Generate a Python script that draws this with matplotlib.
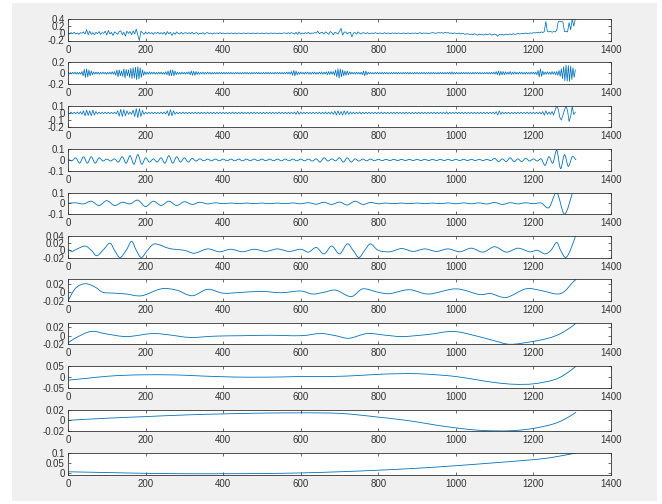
import numpy as np
import matplotlib
matplotlib.use("Agg")
import matplotlib.pyplot as plt
from matplotlib.patches import Rectangle, PathPatch
from matplotlib.path import Path

plt.rcParams['font.family'] = ['Liberation Sans', 'DejaVu Sans']
plt.rcParams['axes.unicode_minus'] = False

# ---------------- data ----------------
x_ticks = [0, 200, 400, 600, 800, 1000, 1200, 1400]
x_ticklabels = ['0', '200', '400', '600', '800', '1000', '1200', '1400']

step1 = 4
imf1 = [.01,-.02,.02,-.01,.03,-.02,.01,-.03,.02,.0,.04,-.02,.1,-.04,.06,-.03,.02,-.04,.03,-.01,
        .05,-.03,.02,.0,.06,-.05,.08,-.02,.03,-.06,.04,.01,-.03,.05,.07,-.04,.03,-.08,.06,.0,
        .05,-.04,.07,-.02,.12,-.05,-.20,.06,.02,-.03,.04,-.02,.03,-.01,.02,-.03,.02,.0,.03,-.02,
        .02,-.02,.03,-.04,.05,-.01,.03,-.06,.02,-.03,.04,.0,-.02,.03,-.02,.01,.02,-.01,.02,-.01,
        .03,-.02,.01,.02,-.03,.01,-.01,.02,-.02,.01,.02,-.01,.01,-.02,.01,.0,.01,-.01,.02,-.01,
        .01,-.01,.0,.01,-.01,.01,.0,-.01,.01,-.01,.01,.0,-.01,.01,.0,-.01,.01,.0,-.01,.01,
        .0,-.01,.01,.0,-.01,.01,-.01,.0,.01,-.01,.0,.01,-.01,.01,.0,-.01,.01,-.01,.0,.01,
        .01,-.01,.02,-.01,.02,.0,-.02,.03,-.03,.04,-.02,.01,-.01,.02,-.01,.03,-.02,.01,.0,.02,
        .01,.06,-.01,.02,.03,-.02,.04,.01,-.03,.05,.02,-.04,.03,.01,-.02,.06,.14,-.05,.03,.04,
        -.02,.02,.03,-.10,.01,.02,-.02,.04,.0,-.02,.02,.01,-.01,.02,-.01,.0,.01,-.01,.02,.0,
        -.01,.01,.0,-.01,.02,-.01,.01,.0,-.01,.01,.0,.01,-.01,.01,.0,-.01,.01,.0,-.01,.01,
        .0,-.01,.01,.0,.01,-.01,.0,.02,-.01,.01,.0,.01,-.01,.0,.01,.02,.01,.0,.01,.02,
        .01,.02,.0,.03,.01,.02,.0,.01,-.01,.01,.0,-.01,.01,-.02,.0,-.01,-.03,-.01,-.02,-.03,
        -.02,-.04,-.01,-.03,-.05,-.02,-.04,-.03,-.05,-.02,-.04,-.03,-.01,-.05,-.03,-.02,-.04,-.08,-.03,-.04,
        -.03,-.05,-.02,-.04,-.03,-.02,-.04,-.01,-.03,-.02,.0,-.02,-.01,.0,-.01,.01,-.01,.0,.01,.0,
        .02,.01,.02,.03,.01,.04,.02,.05,.33,.05,.04,.06,.03,.05,.04,.08,.33,.34,.33,.32,
        .05,.06,.04,.30,.10,.40,.20,.40]

step2 = 3
imf2 = [.015,-.015,.012,-.015,.015,-.012,.02,-.02,.015,-.02,.015,-.02,.03,-.05,.07,-.08,.08,-.07,.06,-.05,
        .04,-.03,.025,-.02,.02,-.015,.02,-.02,.015,-.015,.02,-.015,.015,-.02,.015,-.015,.02,-.02,.025,-.02,
        .03,-.04,.06,-.07,.06,-.05,.04,-.06,.08,-.09,.07,-.05,.06,-.08,.09,-.1,.1,-.09,.11,-.12,
        .12,-.11,.1,-.08,.06,-.04,.03,-.025,.02,-.02,.025,-.02,.02,-.015,.02,-.02,.015,-.02,.02,-.015,
        .02,-.02,.015,-.02,.025,-.03,.04,-.05,.06,-.05,.06,-.05,.04,-.03,.02,-.02,.015,-.02,.02,-.015,
        .015,-.02,.02,-.015,.025,-.03,.04,-.04,.035,-.04,.03,-.025,.02,-.02,.015,-.015,.02,-.02,.015,-.015,
        .02,-.015,.015,-.02,.015,-.015,.015,-.015,.015,-.015,.015,-.015,.015,-.015,.015,-.015,.015,-.015,.015,-.015,
        .015,-.015,.012,-.015,.015,-.012,.015,-.015,.012,-.015,.015,-.015,.015,-.012,.015,-.015,.012,-.015,.015,-.015,
        .015,-.012,.015,-.015,.015,-.015,.012,-.015,.015,-.015,.015,-.012,.015,-.015,.015,-.015,.012,-.015,.015,-.012,
        .015,-.015,.015,-.015,.015,-.015,.015,-.015,.02,-.015,.02,-.02,.03,-.04,.05,-.05,.04,-.03,.02,-.02,
        .02,-.015,.015,-.02,.02,-.015,.02,-.02,.015,-.02,.02,-.015,.02,-.02,.015,-.02,.02,-.015,.02,-.02,
        .02,-.02,.025,-.03,.03,-.025,.03,-.02,.03,-.04,.06,-.07,.08,-.09,.08,-.07,.06,-.05,.04,-.04,
        .04,-.03,.025,-.02,.02,-.015,.015,-.02,.02,-.015,.015,-.02,.02,-.03,.04,-.05,.04,-.03,.02,-.015,
        .015,-.015,.012,-.015,.015,-.012,.015,-.015,.012,-.015,.015,-.015,.015,-.012,.015,-.015,.012,-.015,.015,-.015,
        .015,-.012,.015,-.015,.015,-.015,.012,-.015,.015,-.015,.015,-.012,.015,-.015,.015,-.015,.012,-.015,.015,-.012,
        .015,-.015,.012,-.015,.015,-.012,.015,-.015,.012,-.015,.015,-.015,.015,-.012,.015,-.015,.012,-.015,.015,-.015,
        .015,-.015,.015,-.015,.015,-.015,.015,-.015,.02,-.02,.025,-.02,.015,-.015,.015,-.015,.012,-.015,.015,-.015,
        .015,-.012,.015,-.015,.015,-.015,.012,-.015,.015,-.015,.015,-.012,.015,-.015,.015,-.015,.012,-.015,.015,-.012,
        .015,-.015,.015,-.015,.015,-.015,.02,-.02,.03,-.03,.04,-.04,.035,-.03,.03,-.03,.025,-.02,.02,-.02,
        .03,-.025,.02,-.02,.025,-.02,.015,-.02,.02,-.015,.02,-.02,.015,-.02,.02,-.015,.015,-.02,.02,-.015,
        .02,-.02,.02,-.03,.05,-.07,.08,-.06,.04,-.03,.02,-.02,.025,-.02,.02,-.025,.03,-.02,.025,-.03,
        .03,-.04,.05,-.06,.08,-.1,.12,-.14,.15,-.15,.14,-.15,.13,-.12,.1,-.08,.06]

step3 = 4
imf3 = [.01,-.01,.012,-.012,.01,-.012,.014,-.014,.018,-.02,.03,-.04,.04,-.035,.03,-.04,.04,-.03,.02,-.015,
        .012,-.012,.01,-.01,.012,-.01,.01,-.012,.01,-.01,.012,-.015,.03,-.045,.05,-.05,.045,-.04,.03,-.02,
        .015,-.02,.04,-.05,.06,-.065,.06,-.05,.035,-.02,.012,-.012,.01,-.01,.012,-.01,.01,-.012,.01,-.01,
        .012,-.012,.014,-.015,.03,-.04,.045,-.04,.03,-.02,.012,-.012,.01,-.01,.012,-.01,.01,-.012,.01,-.01,
        .01,-.01,.012,-.01,.01,-.012,.01,-.01,.01,-.01,.012,-.01,.01,-.01,.01,-.012,.01,-.01,.01,-.01,
        .01,-.01,.01,-.012,.01,-.01,.012,-.01,.01,-.01,.01,-.01,.012,-.01,.01,-.01,.01,-.012,.01,-.01,
        .012,-.01,.01,-.01,.01,-.012,.01,-.01,.01,-.01,.012,-.01,.01,-.01,.01,-.01,.012,-.01,.01,-.01,
        .01,-.01,.01,-.01,.01,-.012,.014,-.02,.025,-.02,.014,-.012,.01,-.01,.01,-.01,.01,-.01,.01,-.01,
        .01,-.01,.012,-.012,.01,-.012,.014,-.014,.012,-.014,.016,-.02,.025,-.03,.03,-.025,.02,-.03,.03,-.02,
        .025,-.02,.015,-.014,.012,-.012,.01,-.01,.014,-.014,.01,-.01,.01,-.01,.01,-.01,.01,-.01,.01,-.01,
        .01,-.01,.012,-.01,.01,-.01,.01,-.012,.01,-.01,.01,-.01,.012,-.01,.01,-.01,.01,-.01,.012,-.01,
        .01,-.012,.01,-.01,.01,-.01,.012,-.01,.01,-.01,.01,-.012,.01,-.01,.01,-.01,.012,-.01,.01,-.01,
        .01,-.01,.01,-.012,.016,-.016,.01,-.01,.01,-.01,.012,-.01,.01,-.01,.01,-.012,.01,-.01,.01,-.01,
        .01,-.01,.01,-.01,.01,-.01,.01,-.01,.01,-.01,.01,-.01,.01,-.01,.012,-.014,.018,-.03,.03,-.02,
        .014,-.012,.01,-.01,.01,-.012,.01,-.01,.01,-.01,.012,-.01,.01,-.01,.01,-.01,.012,-.01,.01,-.01,
        .01,-.01,.01,-.012,.012,-.015,.02,-.03,.03,-.02,.015,-.02,.02,-.03,.04,.1,.05,-.06,-.1,-.03,
        .04,.1,.03,-.12,-.05,.09,-.02,.01]

step4 = 10
imf4 = [.008,-.008,.02,-.03,.03,-.03,.03,-.03,.02,-.01,
        .008,-.01,.01,-.02,.03,-.03,.04,-.04,.05,-.04,
        .02,-.02,.01,-.02,.02,-.03,.04,-.03,.03,-.02,
        .02,-.02,.015,-.01,.01,-.008,.008,-.008,.008,-.008,
        .008,-.008,.008,-.008,.008,-.008,.008,-.008,.008,-.008,
        .008,-.008,.008,-.008,.008,-.008,.008,-.008,.008,-.008,
        .008,-.008,.008,-.01,.01,-.02,.02,-.01,.01,-.008,
        .02,-.02,.02,-.02,.01,-.01,.008,-.008,.008,-.008,
        .006,-.006,.006,-.006,.006,-.006,.006,-.006,.006,-.006,
        .006,-.006,.006,-.006,.006,-.006,.006,-.006,.006,-.006,
        .006,-.006,.006,-.006,.006,-.006,.006,-.006,.006,-.006,
        .015,-.015,.01,-.015,.02,-.015,.01,-.015,.015,-.01,
        .01,-.01,.01,-.05,.03,-.03,.09,-.08,.05,-.06,
        .03,.0]

step5 = 20
imf5 = [.0,.005,-.005,.02,-.02,.025,-.02,.01,-.005,.03,
        -.03,.02,-.02,.02,-.02,.015,-.01,.01,-.005,.005,
        -.003,.003,-.003,.003,-.003,.003,-.003,.003,-.003,.004,
        -.004,.006,-.008,.01,-.01,.012,-.015,.02,-.01,.008,
        -.004,.003,-.003,.003,-.003,.003,-.003,.003,-.003,.004,
        -.004,.004,-.004,.004,-.006,.008,-.01,.006,-.005,.005,
        -.003,.003,-.04,.1,-.1,.09]

x6 = [0,10,20,44,60,74,90,108,120,134,150,164,176,189,205,224,262,300,326,360,
      390,420,450,480,510,540,570,600,620,640,660,680,700,720,735,750,765,780,800,830,
      860,890,920,950,980,1010,1040,1070,1100,1130,1160,1190,1210,1230,1245,1260,1270,1283,1295,1310]
y6 = [.003,-.003,.002,.012,.0,-.015,.0,.02,.0,-.02,.0,.025,.0,-.02,.0,.018,.005,.0,-.008,.004,
      -.004,.003,-.004,.003,-.003,.004,-.003,.003,-.005,.008,-.01,.012,-.01,.018,.0,-.02,.0,.018,.0,-.004,
      .005,-.003,.004,-.003,.004,-.004,.006,-.005,.01,-.005,.006,-.004,.0,-.01,.0,.022,.0,-.02,.0,.045]

x7 = [0,20,45,70,90,120,150,190,240,280,320,360,400,450,500,550,600,630,660,690,
      730,760,800,830,880,930,1000,1060,1090,1130,1180,1220,1260,1280,1300,1310]
y7 = [-.02,.01,.02,.012,.0,-.002,-.004,-.008,.008,.005,-.008,.007,-.002,.0,.002,-.001,.003,-.004,.0,.005,
      -.01,.008,.0,-.003,.006,-.004,.008,-.005,-.003,-.012,.008,.004,-.004,.002,.022,.03]

x8 = [0,20,60,100,152,217,260,315,380,450,520,600,651,690,725,771,820,863,930,993,
      1050,1100,1140,1194,1238,1270,1300,1310]
y8 = [-.017,-.005,.01,.004,-.002,.005,.002,-.004,-.001,.0,.001,.0,.005,.0,-.006,.005,.001,-.002,.003,.01,
      .0,-.012,-.02,-.014,-.006,.005,.022,.03]

x9 = [0,50,100,150,200,250,300,350,400,450,500,550,600,650,700,750,800,850,900,950,
      1000,1050,1100,1150,1200,1250,1280,1310]
y9 = [-.015,-.006,.003,.008,.01,.01,.008,.004,.001,-.001,-.001,.0,.002,.002,.003,.007,.012,.015,.015,.01,
      .002,-.012,-.026,-.034,-.032,-.015,.01,.05]

x10 = [0,100,200,300,400,500,600,650,700,750,800,850,900,950,1000,1050,1100,1150,1200,1250,1280,1310]
y10 = [.0,.004,.007,.01,.012,.0135,.014,.0138,.013,.01,.006,.002,-.003,-.009,-.014,-.018,-.0195,-.019,
       -.015,-.007,.002,.015]

x11 = [0,100,200,300,400,500,600,700,800,900,1000,1100,1200,1250,1310]
y11 = [.004,.0,-.004,-.006,-.006,-.005,-.002,.004,.012,.022,.035,.05,.066,.078,.1]

# (x, y, drawn as a smooth curve through the points?)
series = [
    (np.arange(len(imf1)) * step1, imf1, False),
    (np.arange(len(imf2)) * step2, imf2, False),
    (np.arange(len(imf3)) * step3, imf3, False),
    (np.arange(len(imf4)) * step4, imf4, True),
    (np.arange(len(imf5)) * step5, imf5, True),
    (x6, y6, True), (x7, y7, True), (x8, y8, True),
    (x9, y9, True), (x10, y10, True), (x11, y11, True),
]

y_limits = [(-0.2, 0.4), (-0.2, 0.2), (-0.2, 0.1), (-0.1, 0.1), (-0.1, 0.1),
            (-0.02, 0.04), (-0.02, 0.03), (-0.02, 0.03), (-0.05, 0.05),
            (-0.02, 0.02), (-0.01, 0.1)]
y_ticks = [[-0.2, 0, 0.2, 0.4], [-0.2, 0, 0.2], [-0.2, -0.1, 0, 0.1],
           [-0.1, 0, 0.1], [-0.1, 0, 0.1], [-0.02, 0, 0.02, 0.04],
           [-0.02, 0, 0.02], [-0.02, 0, 0.02], [-0.05, 0, 0.05],
           [-0.02, 0, 0.02], [0, 0.05, 0.1]]
y_ticklabels = [['-0.2', '0', '0.2', '0.4'], ['-0.2', '0', '0.2'], ['-0.2', '-0.1', '0', '0.1'],
                ['-0.1', '0', '0.1'], ['-0.1', '0', '0.1'], ['-0.02', '0', '0.02', '0.04'],
                ['-0.02', '0', '0.02'], ['-0.02', '0', '0.02'], ['-0.05', '0', '0.05'],
                ['-0.02', '0', '0.02'], ['0', '0.05', '0.1']]


def smooth_path(xs, ys):
    """Cubic (Catmull-Rom style) Bezier path passing through the given data points."""
    P = np.column_stack([xs, ys]).astype(float)
    E = np.vstack([P[0], P, P[-1]])
    verts = [P[0]]
    codes = [Path.MOVETO]
    for i in range(len(P) - 1):
        p0, p1, p2, p3 = E[i], E[i + 1], E[i + 2], E[i + 3]
        verts += [p1 + (p2 - p0) / 6.0, p2 - (p3 - p1) / 6.0, p2]
        codes += [Path.CURVE4] * 3
    return Path(verts, codes)


# ---------------- figure ----------------
W, H = 662, 504
fig = plt.figure(figsize=(W / 100, H / 100), dpi=100, facecolor='white')
fig.patches.append(Rectangle((12 / W, 1 - 501 / H), (657 - 12) / W, (501 - 3) / H,
                             transform=fig.transFigure, facecolor='#f0f0f0',
                             edgecolor='none', zorder=-10))

left_px, right_px = 68, 611
top0, pitch, h_px = 19, 43.4, 21.5
line_color = '#0072BD'
axis_color = '#333333'

for k, (xs, ys, smooth) in enumerate(series):
    top = top0 + pitch * k
    ax = fig.add_axes([left_px / W, 1 - (top + h_px) / H,
                       (right_px - left_px) / W, h_px / H])
    ax.set_facecolor('white')
    if smooth:
        ax.add_patch(PathPatch(smooth_path(xs, ys), facecolor='none',
                               edgecolor=line_color, lw=0.6))
    else:
        ax.plot(xs, ys, color=line_color, lw=0.55)
    ax.set_xlim(0, 1400)
    ax.set_ylim(*y_limits[k])
    ax.set_xticks(x_ticks)
    ax.set_xticklabels(x_ticklabels)
    ax.set_yticks(y_ticks[k])
    ax.set_yticklabels(y_ticklabels[k])
    ax.tick_params(direction='in', length=2.5, width=0.5, top=True, right=True,
                   labelsize=7, colors=axis_color, pad=2.5)
    ax.tick_params(axis='x', pad=3)
    for s in ax.spines.values():
        s.set_color(axis_color)
        s.set_linewidth(0.6)

fig.savefig('out.png', dpi=100, facecolor='white')
